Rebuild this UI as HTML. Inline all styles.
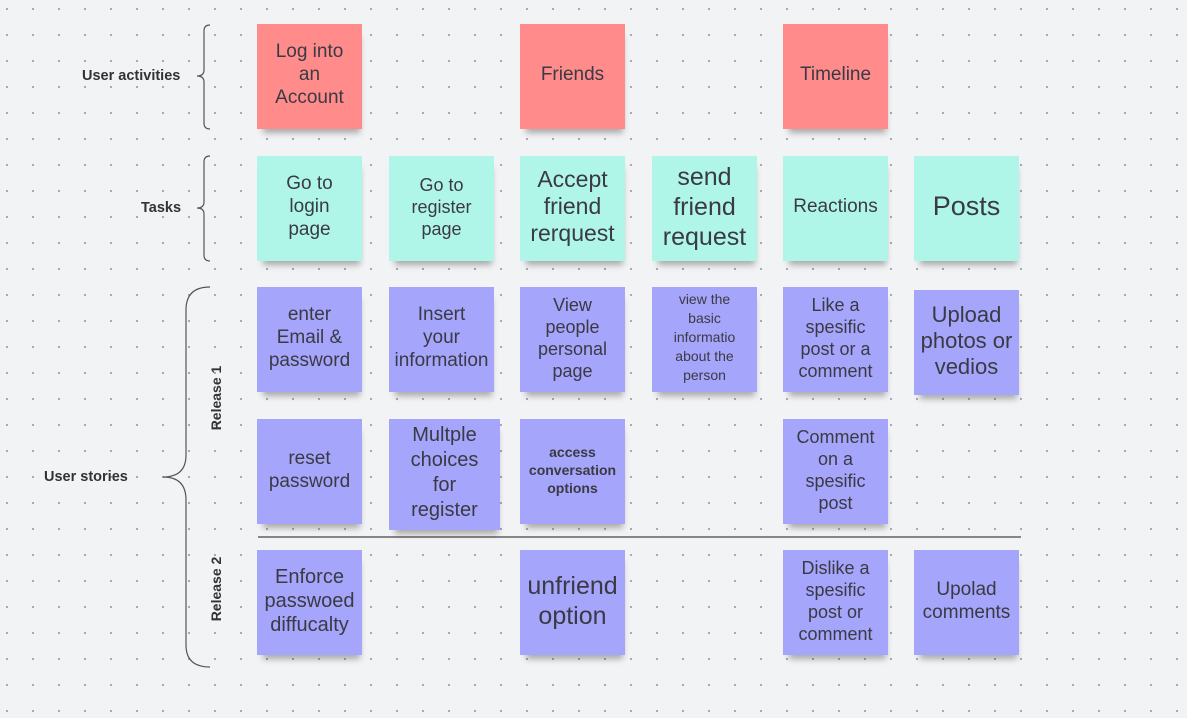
<!DOCTYPE html>
<html><head><meta charset="utf-8"><style>
body{margin:0;width:1187px;height:718px;overflow:hidden;background-color:#f2f3f5;
background-image:radial-gradient(circle,#9a9ca3 0.8px,transparent 1.2px);background-size:26px 26px;background-position:-6px -4px;
font-family:"Liberation Sans",sans-serif;position:relative}
.s{position:absolute;width:105px;height:105px;box-sizing:border-box;padding-bottom:4px;display:flex;align-items:center;justify-content:center;text-align:center;color:#3a3a44;font-size:19px;line-height:23px;box-shadow:2px 8px 6px -4px rgba(0,0,0,0.3)}
.r{background:#ff8b8b}.t{background:#b0f6e8}.p{background:#a5a5fb}
.l{position:absolute;font-size:14.5px;font-weight:bold;color:#333}
.rot{position:absolute;font-size:14px;font-weight:bold;color:#333;transform:translate(-50%,-50%) rotate(-90deg);white-space:nowrap}
</style></head><body>
<svg width="1187" height="718" style="position:absolute;left:0;top:0">
<g fill="none" stroke="#555" stroke-width="1.2">
<path d="M210 25 Q204 25 204 31 L204 70 Q204 76 197 76 Q204 76 204 82 L204 123 Q204 129 210 129"/>
<path d="M210 156 Q204 156 204 162 L204 202 Q204 208 197 208 Q204 208 204 214 L204 255 Q204 261 210 261"/>
<path d="M210 287 Q186 287 186 310 L186 455 Q186 477 163 477 Q186 477 186 500 L186 645 Q186 667 210 667"/>
</g>
<line x1="258" y1="537" x2="1021" y2="537" stroke="#444" stroke-width="1.3"/>
</svg>
<div class="l" style="left:82px;top:68px">User activities</div>
<div class="l" style="left:141px;top:200px">Tasks</div>
<div class="l" style="left:44px;top:469px">User stories</div>
<div class="rot" style="left:216px;top:398px">Release 1</div>
<div class="rot" style="left:216px;top:589px">Release 2</div>

<div class="s r" style="left:257px;top:24px">Log into<br>an<br>Account</div>
<div class="s r" style="left:520px;top:24px">Friends</div>
<div class="s r" style="left:783px;top:24px">Timeline</div>

<div class="s t" style="left:257px;top:156px">Go to<br>login<br>page</div>
<div class="s t" style="left:389px;top:156px;font-size:18px;line-height:22px">Go to<br>register<br>page</div>
<div class="s t" style="left:520px;top:156px;font-size:23px;line-height:27px">Accept<br>friend<br>rerquest</div>
<div class="s t" style="left:652px;top:156px;font-size:25px;line-height:30px">send<br>friend<br>request</div>
<div class="s t" style="left:783px;top:156px">Reactions</div>
<div class="s t" style="left:914px;top:156px;font-size:27px">Posts</div>

<div class="s p" style="left:257px;top:287px">enter<br>Email &amp;<br>password</div>
<div class="s p" style="left:389px;top:287px">Insert<br>your<br>information</div>
<div class="s p" style="left:520px;top:287px;font-size:18px;line-height:22px">View<br>people<br>personal<br>page</div>
<div class="s p" style="left:652px;top:287px;font-size:14px;line-height:19px">view the<br>basic<br>informatio<br>about the<br>person</div>
<div class="s p" style="left:783px;top:287px;font-size:18px;line-height:22px">Like a<br>spesific<br>post or a<br>comment</div>
<div class="s p" style="left:914px;top:290px;font-size:22px;line-height:26px">Upload<br>photos or<br>vedios</div>

<div class="s p" style="left:257px;top:419px">reset<br>password</div>
<div class="s p" style="left:389px;top:419px;width:111px;height:111px;font-size:20px;line-height:25px">Multple<br>choices<br>for<br>register</div>
<div class="s p" style="left:520px;top:419px;font-size:14px;line-height:18px;font-weight:bold">access<br>conversation<br>options</div>
<div class="s p" style="left:783px;top:419px;font-size:18px;line-height:22px">Comment<br>on a<br>spesific<br>post</div>

<div class="s p" style="left:257px;top:550px;font-size:20px;line-height:24px">Enforce<br>passwoed<br>diffucalty</div>
<div class="s p" style="left:520px;top:550px;font-size:25px;line-height:30px">unfriend<br>option</div>
<div class="s p" style="left:783px;top:550px;font-size:18px;line-height:22px">Dislike a<br>spesific<br>post or<br>comment</div>
<div class="s p" style="left:914px;top:550px">Upolad<br>comments</div>
</body></html>
